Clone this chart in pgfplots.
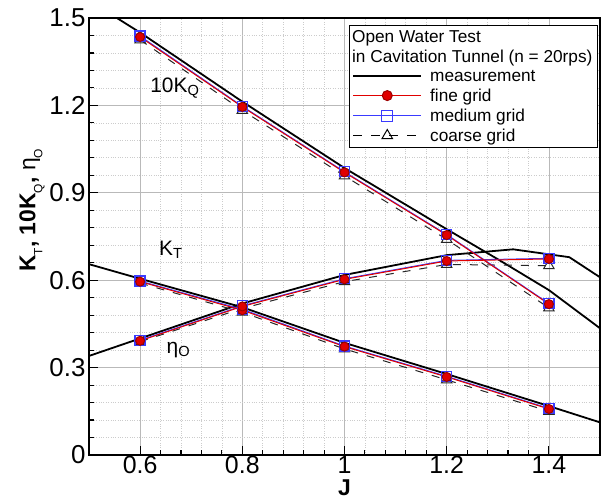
\documentclass[border=0pt]{standalone}
\usepackage{fontspec}
\setmainfont{Liberation Sans}
\usepackage{pgfplots}
\pgfplotsset{compat=1.18}

% measured open water curves
\pgfplotstableread{
J     kq10
0.55  1.505
0.6   1.450
0.8   1.213
1.0   0.985
1.2   0.775
1.3   0.672
1.4   0.566
1.5   0.435
}\measKQ
\pgfplotstableread{
J     kt
0.5   0.655
0.6   0.605
0.8   0.507
1.0   0.385
1.2   0.278
1.4   0.168
1.5   0.112
}\measKT
\pgfplotstableread{
J     eta
0.5   0.340
0.6   0.400
0.8   0.520
1.0   0.618
1.2   0.686
1.33  0.706
1.44  0.679
1.5   0.610
}\measETA

% CFD results: J, 10KQ, KT, eta
\pgfplotstableread{
J    kq10   kt     eta
0.6  1.435  0.595  0.392
0.8  1.195  0.497  0.510
1.0  0.970  0.372  0.603
1.2  0.755  0.268  0.666
1.4  0.518  0.158  0.673
}\fine
\pgfplotstableread{
J    kq10   kt     eta
0.6  1.438  0.597  0.394
0.8  1.197  0.500  0.512
1.0  0.972  0.374  0.605
1.2  0.757  0.270  0.668
1.4  0.520  0.160  0.675
}\medium
\pgfplotstableread{
J    kq10   kt     eta
0.6  1.425  0.590  0.389
0.8  1.183  0.490  0.503
1.0  0.958  0.364  0.595
1.2  0.740  0.258  0.654
1.4  0.505  0.150  0.650
}\coarse

\definecolor{finered}{HTML}{E00000}
\definecolor{medblue}{HTML}{3A3AFF}
\newcommand{\sub}[1]{\raisebox{-0.3em}{\fontsize{12}{12}\selectfont\mdseries #1}}

\begin{document}
\begin{tikzpicture}
\begin{axis}[
  scale only axis, width=511bp, height=437bp,
  xmin=0.5, xmax=1.5, ymin=0, ymax=1.5,
  xtick={0.6,0.8,1,1.2,1.4},
  ytick={0,0.3,0.6,0.9,1.2,1.5},
  minor x tick num=4, minor y tick num=4,
  grid=both,
  major grid style={gray!55, line width=0.7bp},
  minor grid style={gray!40, dotted, line width=0.7bp},
  tick align=inside, tick pos=left,
  major tick length=9bp, minor tick length=5bp,
  every tick/.style={black, line width=1.1bp},
  axis line style={line width=1.5bp},
  /pgf/number format/assume math mode=true,
  ticklabel style={font=\fontsize{26}{26}\selectfont},
  xticklabel style={font=\fontsize{25}{25}\selectfont, inner sep=1bp},
  yticklabel style={/pgf/number format/fixed},
  xlabel={\textbf{J}},
  ylabel={\textbf{K\sub{T}, 10K\sub{Q}, }η\sub{O}},
  label style={font=\fontsize{23}{23}\selectfont},
  xlabel style={yshift=-4bp, inner sep=1bp},
  ylabel style={at={(ticklabel cs:0.56)}, yshift=-2bp},
  legend style={at={(0.996,0.984)}, anchor=north east, draw=black,
    line width=1bp, fill=white, font=\fontsize{17.3}{19.5}\selectfont,
    row sep=2bp, inner sep=3bp,
    /tikz/every odd column/.style={column sep=6bp}},
  legend cell align=left,
  legend image code/.code={\draw[mark repeat=2, mark phase=2]
    plot coordinates {(0bp,0bp) (34bp,0bp) (68bp,0bp)};},
  clip=true,
]
\addlegendimage{empty legend}
\addlegendentry{\hspace*{-78bp}Open Water Test}
\addlegendimage{empty legend}
\addlegendentry{\hspace*{-78bp}in Cavitation Tunnel (n = 20rps)}
\addlegendimage{black, line width=1.8bp}
\addlegendentry{measurement}
\addlegendimage{finered, line width=1bp, mark=*, mark size=5bp,
  mark options={fill=finered, draw=finered!70!black}}
\addlegendentry{fine grid}
\addlegendimage{medblue, line width=1bp, mark=square, mark size=5.5bp,
  mark options={solid}}
\addlegendentry{medium grid}
\addlegendimage{black, line width=1bp, dash pattern=on 9bp off 9bp,
  mark=triangle, mark size=6bp, mark options={solid, fill=white}}
\addlegendentry{coarse grid}

% measurement
\addplot[black, line width=1.8bp, forget plot] table[x=J, y=kq10] {\measKQ};
\addplot[black, line width=1.8bp, forget plot] table[x=J, y=kt] {\measKT};
\addplot[black, line width=1.8bp, forget plot] table[x=J, y=eta] {\measETA};

% coarse grid
\pgfplotsforeachungrouped \col in {kq10,kt,eta}{
  \addplot[black!85, line width=1bp, dash pattern=on 8bp off 9bp,
    mark=triangle, mark size=6bp, mark options={solid, fill=white},
    forget plot] table[x=J, y=\col] {\coarse};
}
% medium grid
\pgfplotsforeachungrouped \col in {kq10,kt,eta}{
  \addplot[medblue, line width=1bp, mark=square, mark size=5bp,
    mark options={solid, line width=1.2bp}, forget plot]
    table[x=J, y=\col] {\medium};
}
% fine grid
\pgfplotsforeachungrouped \col in {kq10,kt,eta}{
  \addplot[finered, line width=1bp, mark=*, mark size=4.5bp,
    mark options={fill=finered, draw=finered!70!black}, forget plot]
    table[x=J, y=\col] {\fine};
}

\node[font=\fontsize{21}{21}\selectfont] at (axis cs:0.668,1.26) {10K\textsubscript{Q}};
\node[font=\fontsize{21}{21}\selectfont] at (axis cs:0.66,0.705) {K\textsubscript{T}};
\node[font=\fontsize{21}{21}\selectfont] at (axis cs:0.675,0.36) {η\textsubscript{O}};
\end{axis}
\pgfresetboundingbox
\path ([shift={(-89bp,-45bp)}]current axis.south west)
  rectangle ([shift={(2bp,18bp)}]current axis.north east);
\end{tikzpicture}
\end{document}
